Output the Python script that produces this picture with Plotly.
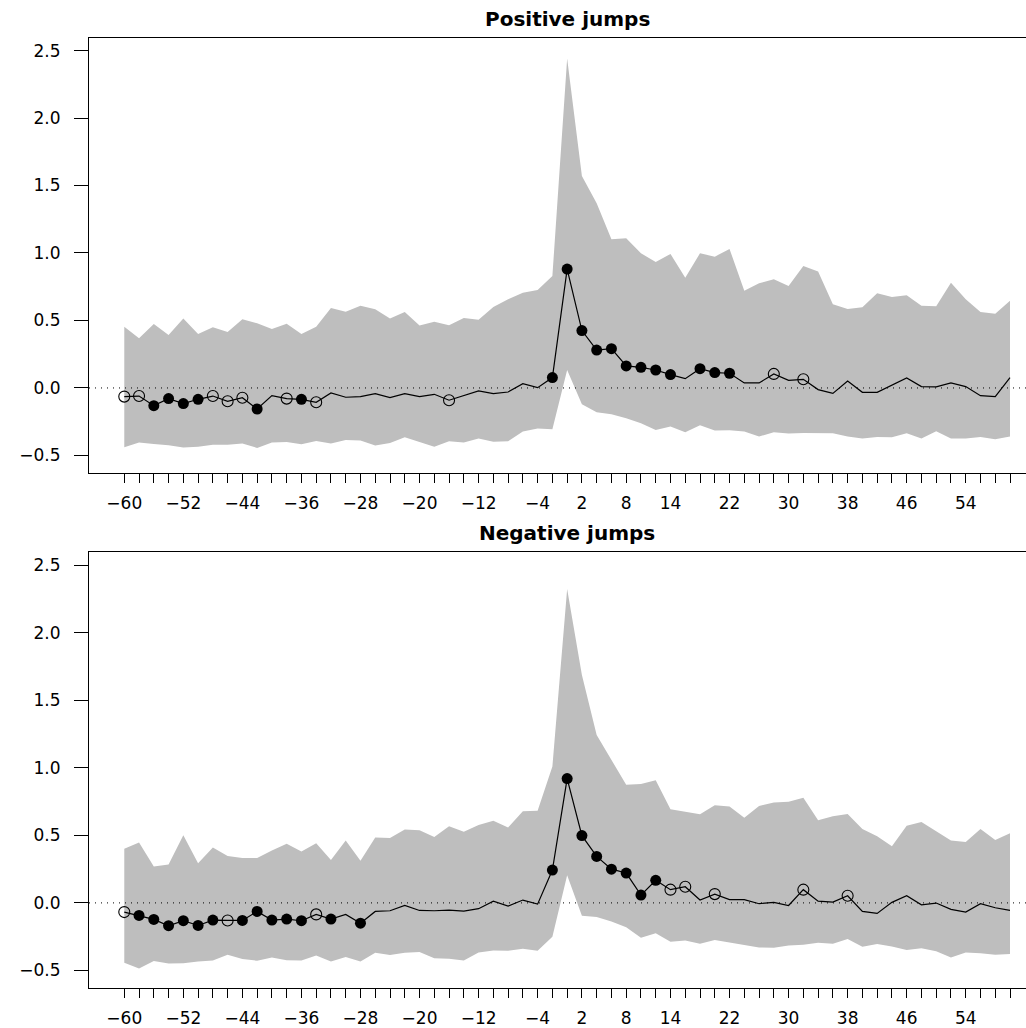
import plotly.graph_objects as go

lags = list(range(-60, 61, 2))

x_labels = {-60: "\u221260", -52: "\u221252", -44: "\u221244", -36: "\u221236",
            -28: "\u221228", -20: "\u221220", -12: "\u221212", -4: "\u22124",
            2: "2", 8: "8", 14: "14", 22: "22", 30: "30", 38: "38", 46: "46", 54: "54"}

y_ticks = [-0.5, 0.0, 0.5, 1.0, 1.5, 2.0, 2.5]
y_tick_labels = ["\u22120.5", "0.0", "0.5", "1.0", "1.5", "2.0", "2.5"]

titles = ["Positive jumps", "Negative jumps"]

pos_mean = [-0.064, -0.060, -0.131, -0.079, -0.116, -0.084, -0.060, -0.099, -0.072, -0.156,
            -0.057, -0.079, -0.084, -0.106, -0.037, -0.069, -0.064, -0.042, -0.072, -0.042,
            -0.064, -0.047, -0.091, -0.057, -0.022, -0.042, -0.030, 0.032, 0.002, 0.077,
            0.881, 0.425, 0.281, 0.291, 0.163, 0.153, 0.133, 0.099, 0.069, 0.143,
            0.114, 0.109, 0.037, 0.037, 0.104, 0.057, 0.064, -0.012, -0.040, 0.052,
            -0.032, -0.032, 0.020, 0.074, 0.010, 0.008, 0.037, 0.010, -0.057, -0.064, 0.076]
pos_upper = [0.454, 0.368, 0.474, 0.393, 0.514, 0.400, 0.449, 0.415, 0.509, 0.479,
             0.437, 0.476, 0.400, 0.454, 0.593, 0.565, 0.610, 0.583, 0.514, 0.563,
             0.462, 0.491, 0.464, 0.519, 0.506, 0.600, 0.657, 0.706, 0.726, 0.830,
             2.442, 1.570, 1.368, 1.101, 1.109, 0.998, 0.933, 0.993, 0.817, 0.998,
             0.973, 1.030, 0.721, 0.775, 0.805, 0.756, 0.904, 0.862, 0.620, 0.585,
             0.598, 0.701, 0.674, 0.686, 0.610, 0.605, 0.780, 0.657, 0.563, 0.550, 0.647]
pos_lower = [-0.440, -0.405, -0.415, -0.425, -0.442, -0.435, -0.420, -0.420, -0.412, -0.444,
             -0.405, -0.400, -0.417, -0.393, -0.412, -0.385, -0.390, -0.427, -0.407, -0.365,
             -0.400, -0.435, -0.395, -0.405, -0.375, -0.398, -0.395, -0.323, -0.301, -0.306,
             0.133, -0.121, -0.180, -0.195, -0.225, -0.262, -0.311, -0.286, -0.328, -0.277,
             -0.316, -0.313, -0.323, -0.360, -0.328, -0.338, -0.333, -0.333, -0.336, -0.360,
             -0.375, -0.363, -0.365, -0.336, -0.375, -0.321, -0.375, -0.375, -0.363, -0.380, -0.360]
# f = filled (significant), o = open circle, - = no marker
pos_marks = "ooffffooof-ofo--------o------fffffffff-fff--o-o--------------"

neg_mean = [-0.068, -0.093, -0.122, -0.169, -0.132, -0.167, -0.127, -0.130, -0.130, -0.063,
            -0.127, -0.120, -0.132, -0.085, -0.120, -0.085, -0.150, -0.063, -0.058, -0.019,
            -0.056, -0.058, -0.053, -0.061, -0.043, 0.013, -0.024, 0.021, -0.009, 0.243,
            0.920, 0.498, 0.344, 0.250, 0.221, 0.058, 0.167, 0.098, 0.120, 0.021,
            0.065, 0.024, 0.024, -0.006, 0.004, -0.019, 0.098, 0.013, 0.006, 0.053,
            -0.063, -0.078, 0.004, 0.053, -0.014, -0.001, -0.048, -0.068, -0.006, -0.036, -0.056]
neg_upper = [0.401, 0.448, 0.270, 0.285, 0.500, 0.293, 0.411, 0.347, 0.332, 0.332,
             0.387, 0.438, 0.381, 0.441, 0.317, 0.461, 0.312, 0.485, 0.480, 0.544,
             0.537, 0.487, 0.567, 0.527, 0.576, 0.609, 0.559, 0.678, 0.683, 1.010,
             2.324, 1.687, 1.242, 1.060, 0.875, 0.880, 0.907, 0.693, 0.673, 0.656,
             0.722, 0.713, 0.631, 0.717, 0.744, 0.749, 0.779, 0.611, 0.641, 0.658,
             0.547, 0.493, 0.419, 0.572, 0.599, 0.530, 0.461, 0.450, 0.547, 0.465, 0.515]
neg_lower = [-0.443, -0.485, -0.431, -0.448, -0.446, -0.433, -0.426, -0.384, -0.416, -0.428,
             -0.404, -0.424, -0.426, -0.389, -0.433, -0.401, -0.433, -0.369, -0.386, -0.369,
             -0.364, -0.409, -0.414, -0.426, -0.367, -0.352, -0.354, -0.340, -0.354, -0.250,
             0.204, -0.095, -0.105, -0.137, -0.181, -0.258, -0.224, -0.288, -0.278, -0.302,
             -0.275, -0.295, -0.310, -0.330, -0.332, -0.315, -0.310, -0.295, -0.302, -0.268,
             -0.325, -0.305, -0.322, -0.349, -0.335, -0.357, -0.404, -0.367, -0.372, -0.384, -0.379]
neg_marks = "offffffofffffof-f------------ffffffffoo-o-----o--o-----------"

panels = [
    (pos_mean, pos_upper, pos_lower, pos_marks),
    (neg_mean, neg_upper, neg_lower, neg_marks),
]

FONT = "DejaVu Sans"
BAND = "#BEBEBE"

fig = go.Figure()

y_domains = [[0.5399, 0.9633], [0.0389, 0.4627]]

for k, (mean, upper, lower, marks) in enumerate(panels):
    xa = "x" if k == 0 else "x2"
    ya = "y" if k == 0 else "y2"
    fig.add_trace(go.Scatter(x=lags, y=lower, mode="lines", line=dict(width=0, color=BAND),
                             xaxis=xa, yaxis=ya, showlegend=False, hoverinfo="skip"))
    fig.add_trace(go.Scatter(x=lags, y=upper, mode="lines", line=dict(width=0, color=BAND),
                             fill="tonexty", fillcolor=BAND,
                             xaxis=xa, yaxis=ya, showlegend=False, hoverinfo="skip"))
    fig.add_trace(go.Scatter(x=lags, y=mean, mode="lines", line=dict(width=1.2, color="black"),
                             xaxis=xa, yaxis=ya, showlegend=False))
    fx = [lags[i] for i, m in enumerate(marks) if m == "f"]
    fy = [mean[i] for i, m in enumerate(marks) if m == "f"]
    ox = [lags[i] for i, m in enumerate(marks) if m == "o"]
    oy = [mean[i] for i, m in enumerate(marks) if m == "o"]
    fig.add_trace(go.Scatter(x=fx, y=fy, mode="markers",
                             marker=dict(symbol="circle", size=11, color="black"),
                             xaxis=xa, yaxis=ya, showlegend=False))
    fig.add_trace(go.Scatter(x=ox, y=oy, mode="markers",
                             marker=dict(symbol="circle-open", size=11, color="black",
                                         line=dict(width=1.1, color="black")),
                             xaxis=xa, yaxis=ya, showlegend=False))
    fig.add_shape(type="line", xref=xa + " domain", yref=ya, x0=0, x1=1, y0=0, y1=0,
                  line=dict(color="black", width=1, dash="1px,5px"), layer="above")

xaxis_common = dict(
    range=[-64.78, 64.74], domain=[0, 1],
    tickmode="array", tickvals=lags,
    ticktext=[x_labels.get(v, "") for v in lags],
    ticks="outside", ticklen=9, tickwidth=1, tickcolor="black",
    showline=True, linecolor="black", linewidth=1, mirror=True,
    showgrid=False, zeroline=False,
    tickfont=dict(family=FONT, size=17, color="black"),
    ticklabelstandoff=6,
)
yaxis_common = dict(
    range=[-0.63, 2.595],
    tickmode="array", tickvals=y_ticks, ticktext=y_tick_labels,
    ticks="outside", ticklen=14, tickwidth=1, tickcolor="black",
    showline=True, linecolor="black", linewidth=1, mirror=True,
    showgrid=False, zeroline=False,
    tickfont=dict(family=FONT, size=17, color="black"),
    ticklabelstandoff=10,
)

# The original box runs past the right edge of the 1026 px window,
# so the figure is a little wider and the page clips it.
fig.update_layout(
    width=1050, height=1028,
    margin=dict(l=89, r=5, t=0, b=0),
    paper_bgcolor="white", plot_bgcolor="white",
    xaxis=dict(anchor="y", **xaxis_common),
    xaxis2=dict(anchor="y2", **xaxis_common),
    yaxis=dict(anchor="x", domain=y_domains[0], **yaxis_common),
    yaxis2=dict(anchor="x2", domain=y_domains[1], **yaxis_common),
    annotations=[
        dict(text="<b>%s</b>" % titles[0], xref="x", yref="paper", x=0, y=1 - 18.7 / 1028,
             xanchor="center", yanchor="middle", showarrow=False,
             font=dict(family=FONT, size=20, color="black")),
        dict(text="<b>%s</b>" % titles[1], xref="x2", yref="paper", x=0, y=1 - 533.3 / 1028,
             xanchor="center", yanchor="middle", showarrow=False,
             font=dict(family=FONT, size=20, color="black")),
    ],
)

fig.write_html(
    "out.html",
    post_script="document.documentElement.style.overflow='hidden';"
                "document.body.style.overflow='hidden';",
)
